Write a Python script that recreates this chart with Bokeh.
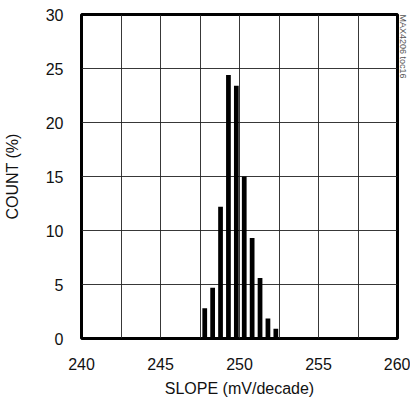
from bokeh.plotting import figure
from bokeh.models import FixedTicker, Range1d, Title
from bokeh.embed import file_html
from bokeh.resources import INLINE

# Data
slope_centers = [247.8, 248.3, 248.8, 249.3, 249.8, 250.3, 250.8, 251.3, 251.8, 252.3]
count_pct = [2.8, 4.7, 12.2, 24.4, 23.4, 15.0, 9.3, 5.6, 1.85, 0.9]
x_ticks = [240, 245, 250, 255, 260]
y_ticks = [0, 5, 10, 15, 20, 25, 30]
x_grid = [242.5, 245, 247.5, 250, 252.5, 255, 257.5]
y_grid = [5, 10, 15, 20, 25]

FONT = "Liberation Sans"

p = figure(width=410, height=400, output_backend="svg", toolbar_location=None,
           x_range=Range1d(240, 260), y_range=Range1d(0, 30),
           min_border_left=73, min_border_right=13, min_border_top=14, min_border_bottom=62)

p.vbar(x=slope_centers, top=count_pct, width=0.3, bottom=0,
       fill_color="black", line_color=None)

p.xaxis.ticker = FixedTicker(ticks=x_ticks)
p.yaxis.ticker = FixedTicker(ticks=y_ticks)
p.xgrid.ticker = FixedTicker(ticks=x_grid)
p.ygrid.ticker = FixedTicker(ticks=y_grid)
for g in (p.xgrid, p.ygrid):
    g.grid_line_color = "#222222"
    g.grid_line_width = 1
    g.grid_line_alpha = 0.9

p.outline_line_color = "black"
p.outline_line_width = 3
p.outline_line_alpha = 1.0

for ax in (p.xaxis, p.yaxis):
    ax.axis_line_color = None
    ax.major_tick_line_color = None
    ax.minor_tick_line_color = None
    ax.major_label_text_font = FONT
    ax.major_label_text_font_size = "16px"
    ax.major_label_text_color = "#111111"
    ax.axis_label_text_font = FONT
    ax.axis_label_text_font_size = "16px"
    ax.axis_label_text_font_style = "normal"
    ax.axis_label_text_color = "#111111"

p.xaxis.axis_label = "SLOPE (mV/decade)"
p.yaxis.axis_label = "COUNT (%)"
p.xaxis.major_label_standoff = 13
p.xaxis.axis_label_standoff = 7
p.yaxis.major_label_standoff = 12
p.yaxis.axis_label_standoff = 22

tag = Title(text="MAX4206 toc16", align="left", standoff=0, offset=0,
            text_font=FONT, text_font_size="9px", text_font_style="normal",
            text_color="#555555")
p.add_layout(tag, "right")

open("out.html", "w").write(file_html(p, INLINE))
